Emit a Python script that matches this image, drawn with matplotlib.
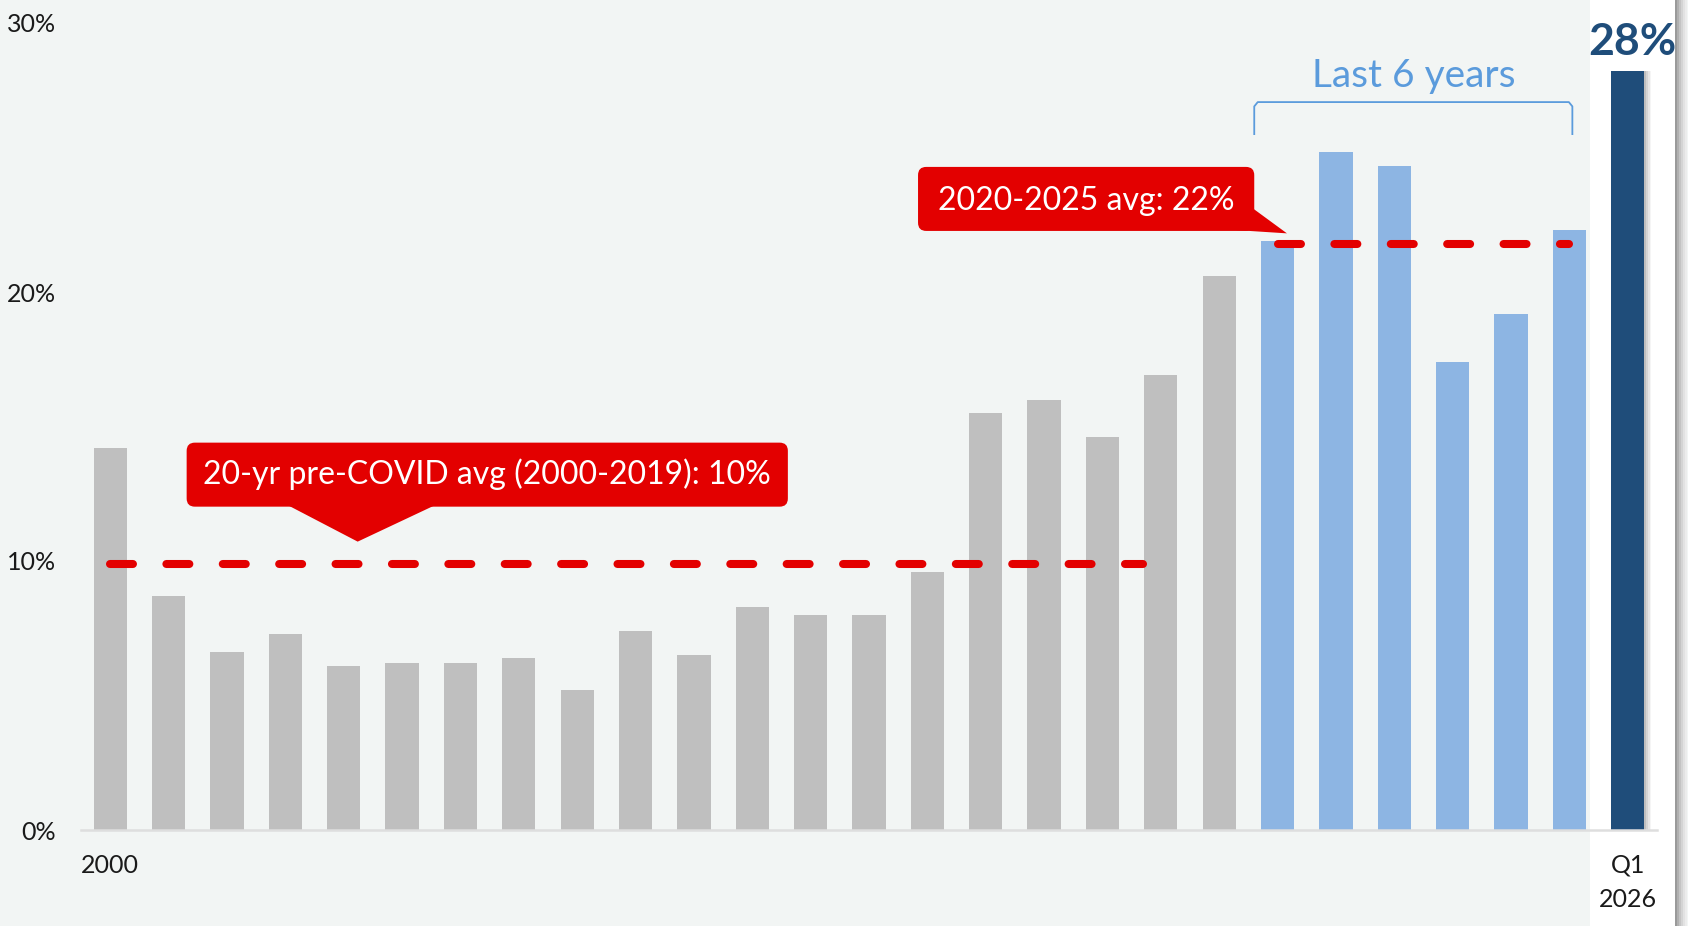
import matplotlib
matplotlib.use('Agg')
import matplotlib.pyplot as plt
from matplotlib.patches import FancyBboxPatch, Polygon, Rectangle
from matplotlib.ticker import FuncFormatter

plt.rcParams['font.family'] = ['Lato', 'DejaVu Sans']

years = list(range(2000, 2026)) + ['Q1 2026']
values = [14.2, 8.7, 6.6, 7.3, 6.1, 6.2, 6.2, 6.4, 5.2, 7.4,
          6.5, 8.3, 8.0, 8.0, 9.6, 15.5, 16.0, 14.6, 16.9, 20.6,
          21.9, 25.2, 24.7, 17.4, 19.2, 22.3,
          28.2]
pre_covid_avg = 9.9
recent_avg = 21.8
xtick_pos = [0, 26]
xtick_labels = ['2000', 'Q1\n2026']

BG = '#f2f5f4'
GRAY = '#bfbfbf'
LIGHT_BLUE = '#8db5e3'
DARK_BLUE = '#1f4d7a'
RED = '#e30000'
TEXT_BLUE = '#5b9bdc'

fig = plt.figure(figsize=(16.88, 9.26), dpi=100, facecolor=BG)
W, H = 1688, 926

# white panel behind the latest bar, with a soft shadow on its right edge
fig.patches.append(Rectangle((1590 / W, 0), 85 / W, 1, transform=fig.transFigure,
                             facecolor='white', edgecolor='none', zorder=-2))
shades = ['#9a9a9a', '#b0b0b0', '#c4c4c4', '#d4d4d4', '#e2e2e2', '#ececec']
for i, c in enumerate(shades):
    fig.patches.append(Rectangle(((1675 + 2 * i) / W, 0), 2 / W, 1, transform=fig.transFigure,
                                 facecolor=c, edgecolor='none', zorder=-2))

ax = fig.add_axes([81 / W, 1 - 830 / H, 1576 / W, 807 / H])
ax.set_facecolor('none')

n = len(values)
xs = list(range(n))
colors = [GRAY] * 20 + [LIGHT_BLUE] * 6 + [DARK_BLUE]

# shadow of the latest bar
for k, a in enumerate([0.10, 0.08, 0.06, 0.04]):
    ax.bar(xs[-1] + 0.03 * (k + 1), values[-1], width=0.57, color='black', alpha=a,
           zorder=1, linewidth=0)
ax.bar(xs, values, width=0.57, color=colors, zorder=2, linewidth=0)

# average lines
lw = 5.8
ax.plot([0, 17.7], [pre_covid_avg] * 2, color=RED, lw=lw, ls=(0, (2.85, 4.15)),
        solid_capstyle='round', dash_capstyle='round', zorder=4)
ax.plot([20, 25], [recent_avg] * 2, color=RED, lw=lw, ls=(0, (2.85, 4.15)),
        solid_capstyle='round', dash_capstyle='round', zorder=4)

ax.set_xlim(-0.5, 26.5)
ax.set_ylim(0, 30)
aspect = (1576 / 27) / (807 / 30)

# callout 1
ax.add_patch(FancyBboxPatch((1.31, 12.02), 10.30, 2.38, boxstyle='round,pad=0,rounding_size=0.14',
                            mutation_aspect=aspect, facecolor=RED, edgecolor='none', zorder=5))
ax.add_patch(Polygon([(3.02, 12.1), (5.59, 12.1), (4.24, 10.72)], closed=True,
                     facecolor=RED, edgecolor='none', zorder=5))
ax.text(6.46, 13.21, '20-yr pre-COVID avg (2000-2019): 10%', color='white', fontsize=23,
        ha='center', va='center', zorder=6)

# callout 2
ax.add_patch(FancyBboxPatch((13.84, 22.27), 5.76, 2.38, boxstyle='round,pad=0,rounding_size=0.14',
                            mutation_aspect=aspect, facecolor=RED, edgecolor='none', zorder=5))
ax.add_patch(Polygon([(19.5, 23.23), (19.3, 22.3), (20.16, 22.18)], closed=True,
                     facecolor=RED, edgecolor='none', zorder=5))
ax.text(16.72, 23.40, '2020-2025 avg: 22%', color='white', fontsize=23,
        ha='center', va='center', zorder=6)

# bracket over the last 6 years
bx = [19.60, 19.60, 19.66, 24.99, 25.05, 25.05]
by = [25.87, 26.90, 27.06, 27.06, 26.90, 25.87]
ax.plot(bx, by, color=TEXT_BLUE, lw=1.3, clip_on=False, zorder=3)
ax.text(22.34, 27.62, 'Last 6 years', color=TEXT_BLUE, fontsize=28, ha='center',
        va='baseline', clip_on=False)

ax.text(xs[-1] + 0.08, values[-1] + 0.6, f'{values[-1]:.0f}%', color=DARK_BLUE, fontsize=32,
        fontweight='bold', ha='center', va='baseline', clip_on=False)

for s in ['top', 'right', 'left']:
    ax.spines[s].set_visible(False)
ax.spines['bottom'].set_color('#dedede')
ax.spines['bottom'].set_linewidth(1.8)
ax.spines['bottom'].set_zorder(3)

ax.set_yticks([0, 10, 20, 30])
ax.yaxis.set_major_formatter(FuncFormatter(lambda v, p: f'{v:.0f}%'))
ax.set_xticks(xtick_pos)
ax.set_xticklabels(xtick_labels, linespacing=1.6)
ax.tick_params(axis='y', length=0, pad=18, labelsize=18, labelcolor='#1a1a1a')
ax.tick_params(axis='x', length=0, pad=17, labelsize=18, labelcolor='#1a1a1a')

fig.savefig('out.png', dpi=100, facecolor=BG)
